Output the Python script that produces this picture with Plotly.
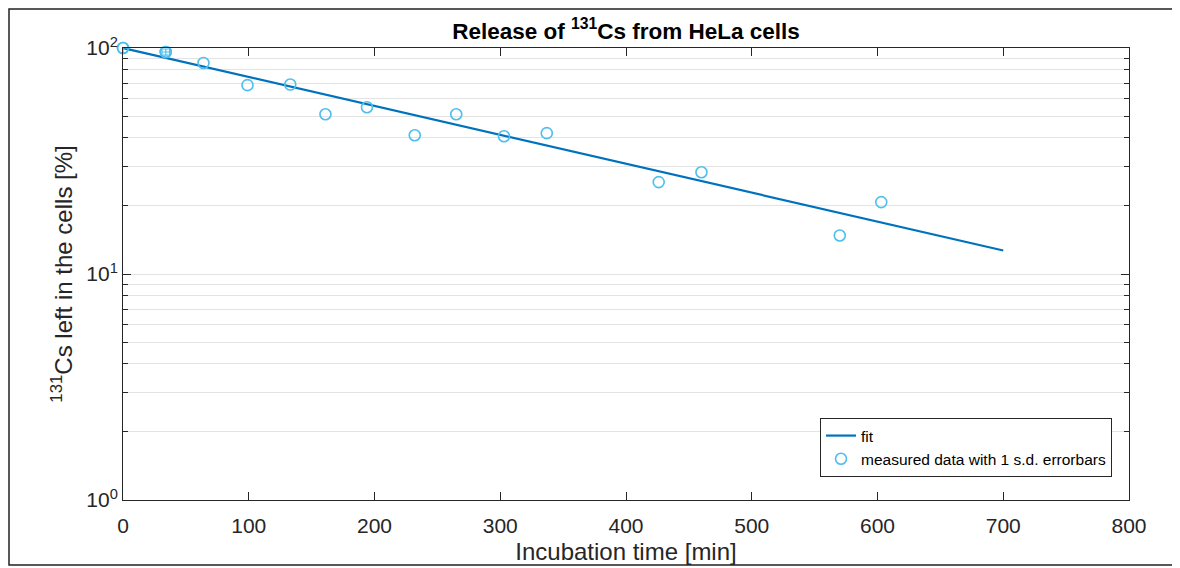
import plotly.graph_objects as go

time_min = [0, 34, 64, 99, 133, 161, 194, 232, 265, 303, 337, 426, 460, 570, 603]
cs_left = [100, 96, 85.8, 68.5, 68.9, 50.9, 54.7, 41.1, 50.9, 40.7, 42.0, 25.5, 28.2, 14.8, 20.8]
# only the first two points have visible 1 s.d. error bars
err_time = [0, 34]
err_cs = [100, 96]
time_err = [4, 3]
cs_err = [5, 3]

# exponential fit line end points
fit_time = [0, 700]
fit_cs = [100, 12.7]

x_ticks = [0, 100, 200, 300, 400, 500, 600, 700, 800]
y_ticks = [1, 10, 100]
y_ticktext = ["10<sup>0</sup>", "10<sup>1</sup>", "10<sup>2</sup>"]
y_minor = [2, 3, 4, 5, 6, 7, 8, 9, 20, 30, 40, 50, 60, 70, 80, 90]

FONT = "Liberation Sans, Arial, Helvetica, sans-serif"
AX = "#262626"
MC = "#4DBEEE"

# the page body adds an 8px margin, so the figure is drawn 8px smaller
W, H = 1172, 560
L, R, T, B = 115, 51, 40, 68
PW, PH = W - L - R, H - T - B

fig = go.Figure()
fig.add_trace(go.Scatter(
    x=fit_time, y=fit_cs, mode="lines", name="fit",
    line=dict(color="#0072BD", width=2.2),
))
fig.add_trace(go.Scatter(
    x=time_min, y=cs_left, mode="markers", name="measured data with 1 s.d. errorbars",
    legendgroup="meas", cliponaxis=False,
    marker=dict(symbol="circle-open", size=11, color=MC, line=dict(width=1.6)),
))
fig.add_trace(go.Scatter(
    x=err_time, y=err_cs, mode="markers", name="measured data with 1 s.d. errorbars",
    legendgroup="meas", showlegend=False, cliponaxis=False,
    marker=dict(symbol="circle-open", size=11, color=MC, line=dict(width=1.6)),
    error_x=dict(type="data", array=time_err, color=MC, thickness=1.2, width=3),
    error_y=dict(type="data", array=cs_err, color=MC, thickness=1.2, width=3),
))

fig.update_layout(
    width=W, height=H,
    margin=dict(l=L, r=R, t=T, b=B, autoexpand=False),
    paper_bgcolor="white", plot_bgcolor="white",
    font=dict(family=FONT, color=AX, size=21),
    title=dict(text="<b>Release of <sup>131</sup>Cs from HeLa cells</b>",
               x=(618 / W), xanchor="center", y=1 - 23 / H, yanchor="middle",
               font=dict(size=22.5, color="black", family=FONT)),
    showlegend=True,
    legend=dict(x=(1104 - L) / PW, xanchor="right", y=(H - B - 469) / PH, yanchor="bottom",
                bordercolor=AX, borderwidth=1, bgcolor="white",
                font=dict(size=15.5, color="black"), tracegroupgap=0,
                itemwidth=30),
    xaxis=dict(
        range=[0, 800], tickvals=x_ticks, ticks="inside", ticklen=8, tickcolor=AX,
        showline=True, linecolor=AX, linewidth=1, mirror="ticks", showgrid=False,
        zeroline=False, tickfont=dict(size=21, color=AX), ticklabelstandoff=7,
        automargin=False,
        title=dict(text="Incubation time [min]", font=dict(size=24, color=AX), standoff=6),
    ),
    yaxis=dict(
        type="log", range=[0, 2], tickvals=y_ticks, ticktext=y_ticktext,
        ticks="inside", ticklen=8, tickcolor=AX,
        showline=True, linecolor=AX, linewidth=1, mirror="ticks",
        showgrid=True, gridcolor="#e3e3e3", gridwidth=1, zeroline=False,
        tickfont=dict(size=21, color=AX), automargin=False,
        minor=dict(tickmode="array", tickvals=y_minor, ticks="inside", ticklen=5,
                   tickcolor=AX, showgrid=True, gridcolor="#e3e3e3", gridwidth=1),
        title=dict(text="<sup>131</sup>Cs left in the cells [%]", font=dict(size=24, color=AX), standoff=6),
    ),
)

# outer figure frame
fig.add_shape(type="rect", xref="paper", yref="paper",
              x0=(1 - L) / PW, x1=(1167 - L) / PW,
              y0=(H - B - 557) / PH, y1=(H - B - 1) / PH,
              line=dict(color="#222222", width=1.5), fillcolor="rgba(0,0,0,0)", layer="above")

fig.write_html("out.html")
